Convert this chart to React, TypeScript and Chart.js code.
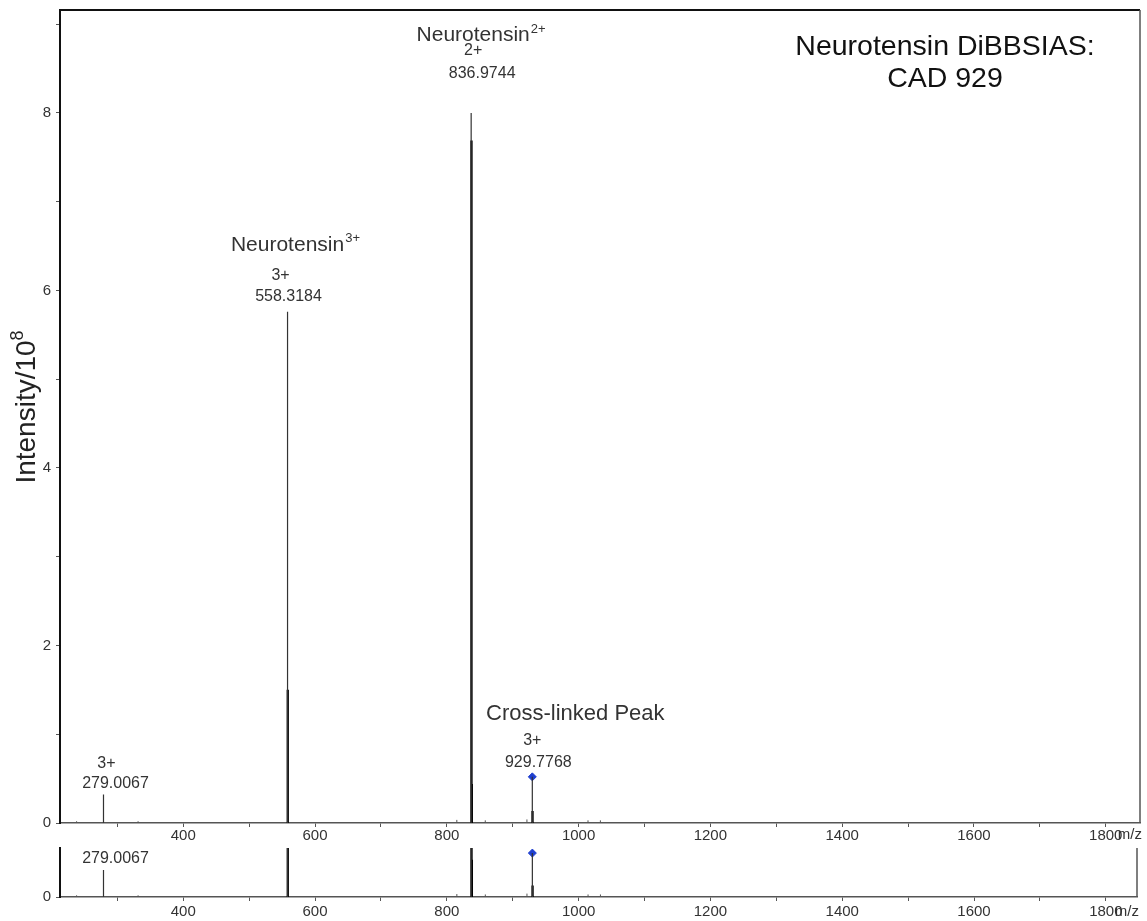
import React, { useEffect, useRef } from 'react';
import { Chart, registerables } from 'chart.js';

Chart.register(...registerables);

const FONT = "'Liberation Sans', Arial, Helvetica, sans-serif";

// ---- data ----
const peakMz = [279.0067, 558.3184, 836.9744, 929.7768];
const peakIntensity = [0.32, 5.76, 8.0, 0.52];
const clusterMz = [558.6517, 837.4759, 837.9774, 930.1102];
const clusterIntensity = [1.5, 7.69, 0.44, 0.135];
const noiseMz = [238.2, 331.5, 815.2, 858.4, 921.6, 1014.3, 1033.1];
const noiseIntensity = [0.02, 0.02, 0.035, 0.03, 0.04, 0.03, 0.03];
const markerMz = [929.7768];
const markerIntensity = [0.52];

const xLabelValues = [400, 600, 800, 1000, 1200, 1400, 1600, 1800];
const yLabelValues = [0, 2, 4, 6, 8];

const chargeLabels = ['3+', '3+', '2+', '3+'];
const massLabels = ['279.0067', '558.3184', '836.9744', '929.7768'];
const nameLabels = ['', 'Neurotensin', 'Neurotensin', 'Cross-linked Peak'];
const nameSuper = ['', '3+', '2+', ''];
const titleLines = ['Neurotensin DiBBSIAS:', 'CAD 929'];

// label layout (pixels relative to the peak top)
const massOffset = [11, 15, 39, 14];
const chargeOffset = [31, 36, 62, 36];
const nameOffset = [0, 67, 78, 63];
const massShift = [12, 1, 11, 6];
const chargeShift = [3, -7, 2, 0];
const nameShift = [0, 0, 2, 43];

function sticks(mz: number[], inten: number[]) {
  const pts: any[] = [];
  mz.forEach((m, i) => {
    pts.push({ x: m, y: 0 }, { x: m, y: inten[i] }, { x: m, y: null });
  });
  return pts;
}

function datasets() {
  return [
    {
      type: 'line',
      data: sticks(noiseMz, noiseIntensity),
      borderColor: '#555',
      borderWidth: 1,
      pointRadius: 0,
      spanGaps: false,
    },
    {
      type: 'line',
      data: sticks(peakMz, peakIntensity),
      borderColor: '#333',
      borderWidth: 1.2,
      pointRadius: 0,
      spanGaps: false,
    },
    {
      type: 'line',
      data: sticks(clusterMz, clusterIntensity),
      borderColor: '#000',
      borderWidth: 2.3,
      pointRadius: 0,
      spanGaps: false,
    },
    {
      type: 'scatter',
      data: markerMz.map((m, i) => ({ x: m, y: markerIntensity[i] })),
      pointStyle: 'rectRot',
      pointRadius: 4,
      backgroundColor: '#1f3fd0',
      borderColor: '#1f3fd0',
      borderWidth: 1,
    },
  ];
}

function xScale(min: number, max: number, height: number, pad: number) {
  return {
    type: 'linear',
    min,
    max,
    offset: false,
    grid: { display: true, drawOnChartArea: false, drawTicks: true, tickLength: 4, color: '#555', lineWidth: 1 },
    border: { display: true, color: '#555', width: 1.5 },
    ticks: {
      stepSize: 100,
      includeBounds: false,
      autoSkip: false,
      maxRotation: 0,
      padding: pad,
      color: '#333',
      font: { family: FONT, size: 15 },
      callback: (v: number) => (xLabelValues.includes(v) ? String(v) : ''),
    },
    afterFit: (s: any) => {
      s.height = height;
      s.paddingLeft = 0;
      s.paddingRight = 0;
    },
  };
}

function yScale(max: number, step: number) {
  return {
    type: 'linear',
    min: 0,
    max,
    grid: { display: true, drawOnChartArea: false, drawTicks: true, tickLength: 4, color: '#555', lineWidth: 1 },
    border: { display: true, color: '#111', width: 2 },
    ticks: {
      stepSize: step,
      includeBounds: false,
      autoSkip: false,
      padding: 5,
      color: '#333',
      font: { family: FONT, size: 15 },
      callback: (v: number) => (yLabelValues.includes(v) ? String(v) : ''),
    },
    afterFit: (s: any) => {
      s.width = 60;
      s.paddingTop = 0;
      s.paddingBottom = 0;
    },
  };
}

function labelPlugin(main: boolean) {
  return {
    id: 'peakLabels' + (main ? 'Main' : 'Sub'),
    afterDraw(chart: any) {
      const { ctx, chartArea, scales } = chart;
      const xs = scales.x;
      const ys = scales.y;
      ctx.save();
      // frame: top and right
      ctx.strokeStyle = '#111';
      ctx.lineWidth = 2;
      if (main) {
        ctx.beginPath();
        ctx.moveTo(chartArea.left - 1, chartArea.top);
        ctx.lineTo(chartArea.right, chartArea.top);
        ctx.stroke();
      }
      ctx.strokeStyle = '#555';
      ctx.lineWidth = 1.5;
      ctx.beginPath();
      ctx.moveTo(chartArea.right, chartArea.top);
      ctx.lineTo(chartArea.right, chartArea.bottom);
      ctx.stroke();

      ctx.textAlign = 'center';
      ctx.textBaseline = 'middle';
      ctx.fillStyle = '#333';
      peakMz.forEach((mz, i) => {
        const px = xs.getPixelForValue(mz);
        const py = ys.getPixelForValue(peakIntensity[i]);
        ctx.font = `16px ${FONT}`;
        const my = py - massOffset[i];
        if (main || my - 8 >= chartArea.top) {
          ctx.fillText(massLabels[i], px + massShift[i], my);
        }
        if (!main) return;
        ctx.fillText(chargeLabels[i], px + chargeShift[i], py - chargeOffset[i]);
        if (nameLabels[i]) {
          ctx.font = `${nameSuper[i] ? 21 : 22}px ${FONT}`;
          const cx = px + nameShift[i];
          const ny = py - nameOffset[i];
          ctx.fillText(nameLabels[i], cx, ny);
          if (nameSuper[i]) {
            const w = ctx.measureText(nameLabels[i]).width;
            ctx.font = `13px ${FONT}`;
            ctx.textAlign = 'left';
            ctx.fillText(nameSuper[i], cx + w / 2 + 1, ny - 6);
            ctx.textAlign = 'center';
          }
        }
      });

      // m/z axis label
      ctx.font = `15px ${FONT}`;
      ctx.textAlign = 'right';
      ctx.fillStyle = '#333';
      ctx.fillText('m/z', chartArea.right + 2, chartArea.bottom + (main ? 12 : 15));

      if (main) {
        // title
        ctx.fillStyle = '#111';
        ctx.textAlign = 'center';
        ctx.font = `28.5px ${FONT}`;
        const tx = chartArea.right - 195;
        ctx.fillText(titleLines[0], tx, chartArea.top + 37);
        ctx.fillText(titleLines[1], tx, chartArea.top + 69);

        // y title
        ctx.save();
        ctx.translate(27, 407);
        ctx.rotate(-Math.PI / 2);
        ctx.font = `28px ${FONT}`;
        const base = 'Intensity/10';
        const wb = ctx.measureText(base).width;
        ctx.font = `18px ${FONT}`;
        const ws = ctx.measureText('8').width;
        const start = -(wb + ws) / 2;
        ctx.textAlign = 'left';
        ctx.fillStyle = '#222';
        ctx.font = `28px ${FONT}`;
        ctx.fillText(base, start, 0);
        ctx.font = `18px ${FONT}`;
        ctx.fillText('8', start + wb, -9);
        ctx.restore();
      }
      ctx.restore();
    },
  };
}

export default function App() {
  const mainRef = useRef<HTMLCanvasElement | null>(null);
  const subRef = useRef<HTMLCanvasElement | null>(null);

  useEffect(() => {
    const common = {
      responsive: false,
      animation: false,
      events: [],
      plugins: { legend: { display: false }, tooltip: { enabled: false } },
    };
    const main = new Chart(mainRef.current as HTMLCanvasElement, {
      type: 'line',
      data: { datasets: datasets() as any },
      options: {
        ...common,
        layout: { padding: { top: 10, right: 7, left: 0, bottom: 0 } },
        scales: { x: xScale(213, 1852, 23, 0), y: yScale(9.16, 1) },
      } as any,
      plugins: [labelPlugin(true)],
    });
    const sub = new Chart(subRef.current as HTMLCanvasElement, {
      type: 'line',
      data: { datasets: datasets() as any },
      options: {
        ...common,
        layout: { padding: { top: 0, right: 10, left: 0, bottom: 0 } },
        scales: { x: xScale(213, 1847.3, 24, 2), y: yScale(0.58, 1) },
      } as any,
      plugins: [labelPlugin(false)],
    });
    return () => {
      main.destroy();
      sub.destroy();
    };
  }, []);

  return (
    <div style={{ position: 'absolute', left: 0, top: 0, width: 1147, height: 921, background: '#fff' }}>
      <canvas ref={mainRef} width={1147} height={846} style={{ position: 'absolute', left: 0, top: 0, width: 1147, height: 846 }} />
      <canvas ref={subRef} width={1147} height={78} style={{ position: 'absolute', left: 0, top: 843, width: 1147, height: 78 }} />
    </div>
  );
}
